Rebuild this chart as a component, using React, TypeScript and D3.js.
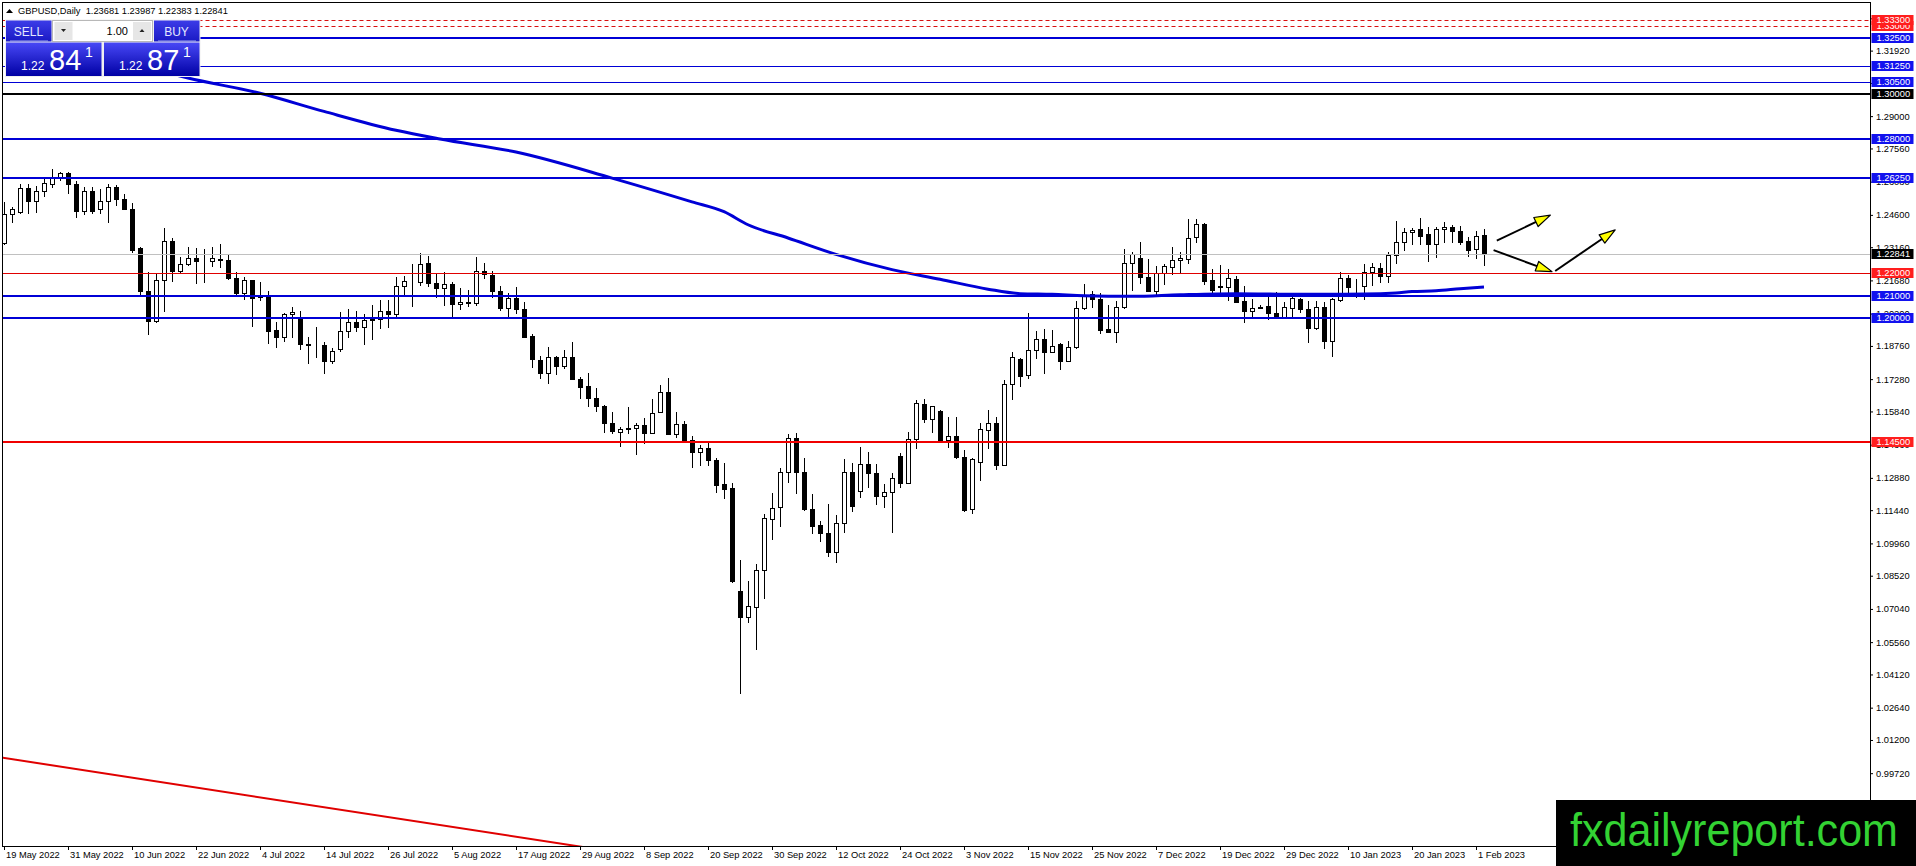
import { useEffect, useRef } from "react";
import * as d3 from "d3";

const WIDTH = 1916;
const HEIGHT = 866;

// GBPUSD daily bars, 19 May 2022 .. 2 Feb 2023 : [open, high, low, close]
const ohlc: [number, number, number, number][] = [
  [1.2333, 1.2519, 1.2330, 1.2464], [1.2464, 1.2497, 1.2430, 1.2485], [1.2471, 1.2598, 1.2468, 1.2578],
  [1.2578, 1.2598, 1.2467, 1.2523], [1.2523, 1.2589, 1.2474, 1.2568], [1.2568, 1.2620, 1.2546, 1.2601],
  [1.2598, 1.2663, 1.2583, 1.2623], [1.2630, 1.2653, 1.2615, 1.2645], [1.2645, 1.2650, 1.2556, 1.2598],
  [1.2596, 1.2612, 1.2452, 1.2479], [1.2479, 1.2586, 1.2462, 1.2568], [1.2568, 1.2586, 1.2467, 1.2479],
  [1.2485, 1.2574, 1.2470, 1.2523], [1.2523, 1.2598, 1.2427, 1.2583], [1.2583, 1.2593, 1.2504, 1.2529],
  [1.2529, 1.2553, 1.2485, 1.2485], [1.2485, 1.2511, 1.2296, 1.2303], [1.2311, 1.2315, 1.2103, 1.2122],
  [1.2122, 1.2204, 1.1929, 1.1987], [1.1987, 1.2199, 1.1981, 1.2170], [1.2170, 1.2400, 1.2033, 1.2344],
  [1.2344, 1.2355, 1.2167, 1.2211], [1.2211, 1.2274, 1.2199, 1.2240], [1.2240, 1.2318, 1.2237, 1.2269],
  [1.2269, 1.2311, 1.2155, 1.2253], [1.2255, 1.2308, 1.2162, 1.2254], [1.2253, 1.2315, 1.2232, 1.2266],
  [1.2263, 1.2329, 1.2229, 1.2257], [1.2259, 1.2284, 1.2173, 1.2177], [1.2177, 1.2207, 1.2103, 1.2110],
  [1.2110, 1.2182, 1.2084, 1.2170], [1.2170, 1.2172, 1.1966, 1.2088], [1.2092, 1.2162, 1.2081, 1.2099],
  [1.2099, 1.2121, 1.1890, 1.1944], [1.1947, 1.1981, 1.1870, 1.1914], [1.1914, 1.2021, 1.1899, 1.2017],
  [1.2017, 1.2051, 1.1914, 1.2026], [1.2003, 1.2032, 1.1861, 1.1883], [1.1884, 1.1914, 1.1801, 1.1879],
  [1.1880, 1.1959, 1.1825, 1.1882], [1.1880, 1.1895, 1.1754, 1.1810], [1.1810, 1.1865, 1.1798, 1.1855],
  [1.1861, 1.2026, 1.1855, 1.1944], [1.1944, 1.2039, 1.1917, 1.1984], [1.1984, 1.2032, 1.1944, 1.1962],
  [1.1962, 1.2017, 1.1883, 1.1992], [1.1993, 1.2058, 1.1907, 1.1995], [1.1994, 1.2081, 1.1954, 1.2033],
  [1.2033, 1.2081, 1.1962, 1.2017], [1.2017, 1.2185, 1.2011, 1.2145], [1.2145, 1.2188, 1.2103, 1.2167],
  [1.2168, 1.2240, 1.2055, 1.2170], [1.2162, 1.2289, 1.2147, 1.2240], [1.2244, 1.2277, 1.2143, 1.2158],
  [1.2158, 1.2199, 1.2093, 1.2136], [1.2136, 1.2207, 1.2058, 1.2150], [1.2150, 1.2162, 1.1999, 1.2061],
  [1.2061, 1.2133, 1.2039, 1.2070], [1.2070, 1.2125, 1.2055, 1.2068], [1.2068, 1.2271, 1.2058, 1.2210],
  [1.2210, 1.2247, 1.2177, 1.2197], [1.2192, 1.2210, 1.2096, 1.2122], [1.2122, 1.2143, 1.2036, 1.2044],
  [1.2044, 1.2110, 1.1999, 1.2089], [1.2088, 1.2140, 1.2021, 1.2039], [1.2039, 1.2073, 1.1914, 1.1917],
  [1.1920, 1.1929, 1.1784, 1.1819], [1.1813, 1.1831, 1.1735, 1.1754], [1.1754, 1.1870, 1.1709, 1.1825],
  [1.1825, 1.1831, 1.1749, 1.1787], [1.1787, 1.1858, 1.1776, 1.1825], [1.1825, 1.1893, 1.1727, 1.1727],
  [1.1727, 1.1736, 1.1642, 1.1694], [1.1697, 1.1754, 1.1608, 1.1642], [1.1642, 1.1687, 1.1587, 1.1610],
  [1.1610, 1.1612, 1.1491, 1.1531], [1.1534, 1.1580, 1.1486, 1.1498], [1.1494, 1.1516, 1.1432, 1.1504],
  [1.1509, 1.1605, 1.1486, 1.1504], [1.1509, 1.1531, 1.1394, 1.1524], [1.1524, 1.1556, 1.1445, 1.1489],
  [1.1489, 1.1639, 1.1486, 1.1576], [1.1583, 1.1702, 1.1583, 1.1669], [1.1669, 1.1735, 1.1482, 1.1482],
  [1.1482, 1.1580, 1.1472, 1.1527], [1.1527, 1.1542, 1.1449, 1.1452], [1.1457, 1.1475, 1.1338, 1.1405],
  [1.1405, 1.1434, 1.1345, 1.1420], [1.1420, 1.1452, 1.1345, 1.1368], [1.1368, 1.1378, 1.1226, 1.1256],
  [1.1261, 1.1356, 1.1197, 1.1238], [1.1241, 1.1267, 1.0825, 1.0828], [1.0784, 1.0922, 1.0328, 1.0669],
  [1.0669, 1.0828, 1.0644, 1.0717], [1.0714, 1.0903, 1.0525, 1.0878], [1.0878, 1.1125, 1.0751, 1.1108],
  [1.1105, 1.1222, 1.1014, 1.1152], [1.1157, 1.1331, 1.1075, 1.1313], [1.1313, 1.1482, 1.1271, 1.1464],
  [1.1464, 1.1487, 1.1219, 1.1313], [1.1313, 1.1375, 1.1145, 1.1148], [1.1148, 1.1216, 1.1041, 1.1075],
  [1.1078, 1.1096, 1.1008, 1.1041], [1.1041, 1.1172, 1.0940, 1.0956], [1.0956, 1.1123, 1.0912, 1.1085],
  [1.1085, 1.1371, 1.1045, 1.1316], [1.1316, 1.1356, 1.1142, 1.1164], [1.1231, 1.1427, 1.1201, 1.1348],
  [1.1348, 1.1402, 1.1246, 1.1308], [1.1308, 1.1350, 1.1172, 1.1207], [1.1207, 1.1261, 1.1160, 1.1224],
  [1.1224, 1.1308, 1.1048, 1.1286], [1.1385, 1.1397, 1.1249, 1.1264], [1.1264, 1.1491, 1.1264, 1.1460],
  [1.1460, 1.1635, 1.1420, 1.1620], [1.1616, 1.1638, 1.1538, 1.1549], [1.1549, 1.1610, 1.1494, 1.1608],
  [1.1586, 1.1590, 1.1449, 1.1452], [1.1457, 1.1558, 1.1427, 1.1475], [1.1475, 1.1558, 1.1375, 1.1380],
  [1.1380, 1.1412, 1.1142, 1.1145], [1.1148, 1.1375, 1.1133, 1.1371], [1.1357, 1.1531, 1.1279, 1.1504],
  [1.1501, 1.1591, 1.1420, 1.1531], [1.1531, 1.1561, 1.1326, 1.1345], [1.1345, 1.1724, 1.1345, 1.1705],
  [1.1705, 1.1847, 1.1638, 1.1825], [1.1818, 1.1820, 1.1699, 1.1743], [1.1746, 1.2021, 1.1731, 1.1858],
  [1.1858, 1.1943, 1.1824, 1.1905], [1.1905, 1.1950, 1.1754, 1.1850], [1.1850, 1.1947, 1.1848, 1.1877],
  [1.1885, 1.1888, 1.1772, 1.1810], [1.1810, 1.1898, 1.1808, 1.1873], [1.1873, 1.2076, 1.1865, 1.2044],
  [1.2044, 1.2150, 1.2041, 1.2103], [1.2106, 1.2121, 1.2051, 1.2084], [1.2085, 1.2110, 1.1932, 1.1947],
  [1.1951, 1.2058, 1.1937, 1.1939], [1.1939, 1.2076, 1.1892, 1.2051], [1.2051, 1.2308, 1.2044, 1.2247],
  [1.2247, 1.2293, 1.2125, 1.2284], [1.2269, 1.2338, 1.2155, 1.2182], [1.2182, 1.2262, 1.2122, 1.2122],
  [1.2122, 1.2232, 1.2103, 1.2199], [1.2199, 1.2239, 1.2150, 1.2232], [1.2228, 1.2315, 1.2197, 1.2257],
  [1.2257, 1.2296, 1.2204, 1.2269], [1.2262, 1.2442, 1.2244, 1.2355], [1.2360, 1.2442, 1.2338, 1.2418],
  [1.2418, 1.2422, 1.2150, 1.2167], [1.2170, 1.2219, 1.2118, 1.2125], [1.2143, 1.2237, 1.2118, 1.2138],
  [1.2137, 1.2219, 1.2081, 1.2177], [1.2173, 1.2188, 1.2070, 1.2073], [1.2076, 1.2143, 1.1984, 1.2033],
  [1.2033, 1.2084, 1.2011, 1.2044], [1.2044, 1.2058, 1.2043, 1.2051], [1.2054, 1.2096, 1.1996, 1.2021],
  [1.2024, 1.2118, 1.1999, 1.2006], [1.2006, 1.2070, 1.2005, 1.2048], [1.2043, 1.2096, 1.1999, 1.2088],
  [1.2084, 1.2091, 1.2029, 1.2039], [1.2039, 1.2076, 1.1892, 1.1954], [1.1954, 1.2076, 1.1951, 1.2048],
  [1.2048, 1.2070, 1.1865, 1.1899], [1.1899, 1.2091, 1.1833, 1.2084], [1.2079, 1.2204, 1.2076, 1.2177],
  [1.2177, 1.2192, 1.2106, 1.2140], [1.2143, 1.2173, 1.2096, 1.2145], [1.2143, 1.2240, 1.2084, 1.2204],
  [1.2204, 1.2244, 1.2148, 1.2226], [1.2222, 1.2244, 1.2162, 1.2188], [1.2188, 1.2296, 1.2162, 1.2281],
  [1.2281, 1.2433, 1.2247, 1.2338], [1.2338, 1.2400, 1.2304, 1.2382], [1.2382, 1.2400, 1.2329, 1.2393],
  [1.2397, 1.2445, 1.2329, 1.2367], [1.2373, 1.2407, 1.2256, 1.2329], [1.2329, 1.2407, 1.2274, 1.2397],
  [1.2396, 1.2427, 1.2338, 1.2405], [1.2405, 1.2415, 1.2341, 1.2388], [1.2388, 1.2412, 1.2329, 1.2341],
  [1.2344, 1.2363, 1.2278, 1.2304], [1.2307, 1.2388, 1.2266, 1.2366], [1.23681, 1.23987, 1.22383, 1.22841],
];

// one date label every 8 bars, starting at bar 0
const dateLabels = [
  "19 May 2022", "31 May 2022", "10 Jun 2022", "22 Jun 2022", "4 Jul 2022", "14 Jul 2022",
  "26 Jul 2022", "5 Aug 2022", "17 Aug 2022", "29 Aug 2022", "8 Sep 2022", "20 Sep 2022",
  "30 Sep 2022", "12 Oct 2022", "24 Oct 2022", "3 Nov 2022", "15 Nov 2022", "25 Nov 2022",
  "7 Dec 2022", "19 Dec 2022", "29 Dec 2022", "10 Jan 2023", "20 Jan 2023", "1 Feb 2023",
];
const dateStep = 8;

const priceTicks = [
  1.3336, 1.3192, 1.3048, 1.29, 1.2756, 1.2608, 1.246, 1.2316, 1.2168, 1.202, 1.1876, 1.1728,
  1.1584, 1.1436, 1.1288, 1.1144, 1.0996, 1.0852, 1.0704, 1.0556, 1.0412, 1.0264, 1.012, 0.9972,
];

// horizontal levels drawn on the chart
const blueLevels = [1.325, 1.3125, 1.305, 1.28, 1.2625, 1.21, 1.2];
const redLevels = [1.22, 1.145];
const dashedLevels = [1.33, 1.333];
const roundLevel = 1.3;
const bidPrice = 1.22841;
const thickLevels = [1.325, 1.28, 1.2625, 1.21, 1.2, 1.145, 1.3];

// moving average: [bar, price]
const maPoints: [number, number][] = [
  [21.5, 1.3083], [23, 1.3070], [32, 1.3002], [40, 1.2921], [49, 1.2837], [54.5, 1.2798],
  [64, 1.2740], [76, 1.2624], [86, 1.2518], [90, 1.2474], [93, 1.2416], [98, 1.2357],
  [104, 1.2284], [111, 1.2216], [117, 1.2173], [123, 1.2129], [127, 1.2109], [131, 1.2106],
  [135, 1.2100], [141, 1.2097], [147, 1.2104], [154, 1.2109], [162, 1.2106], [170, 1.2107],
  [174, 1.2112], [176, 1.2118], [179, 1.2122], [182, 1.2131], [185, 1.2139],
];

// red trend line anchors: [bar, price]
const trendAnchors: [number, number][] = [[0, 1.004], [72, 0.9645]];

// projection arrows: [[bar, price] from, [bar, price] to]
const arrows: [[number, number], [number, number]][] = [
  [[186.6, 1.2345], [193.3, 1.2459]],
  [[186.2, 1.2303], [193.5, 1.2207]],
  [[193.9, 1.2210], [201.4, 1.2393]],
];

const symbol = "GBPUSD,Daily";
const lotSize = "1.00";
const sellQuote = 1.22841;
const buyQuote = 1.22871;
const watermark = "fxdailyreport.com";

const FONT = "'Liberation Sans', Arial, sans-serif";
const BLUE = "#0000d6";
const BLUE_TAG = "#1212ee";
const RED = "#f00000";
const RED_TAG = "#ff1e1e";

export default function App() {
  const ref = useRef<SVGSVGElement | null>(null);

  useEffect(() => {
    if (!ref.current) return;
    const svg = d3.select(ref.current);
    svg.selectAll("*").remove();
    svg.attr("width", WIDTH).attr("height", HEIGHT);

    const plot = { left: 2.5, top: 2.5, right: 1870.5, bottom: 846.5 };
    const pxPerUnit = 2244;

    const x = d3.scaleLinear()
      .domain([0, (plot.right - 4) / 8])
      .range([4, plot.right]);
    const y = d3.scaleLinear()
      .domain([1.3 - (plot.bottom - 93.7) / pxPerUnit, 1.3 + (93.7 - plot.top) / pxPerUnit])
      .range([plot.bottom, plot.top]);

    svg.append("rect").attr("width", WIDTH).attr("height", HEIGHT).attr("fill", "#fff");

    const defs = svg.append("defs");
    defs.append("clipPath").attr("id", "plot-clip")
      .append("rect")
      .attr("x", plot.left + 0.5)
      .attr("y", plot.top + 0.5)
      .attr("width", plot.right - plot.left - 1)
      .attr("height", plot.bottom - plot.top - 1);

    const quoteGrad = defs.append("linearGradient").attr("id", "quote-grad")
      .attr("x1", 0).attr("y1", 0).attr("x2", 0).attr("y2", 1);
    quoteGrad.append("stop").attr("offset", "0%").attr("stop-color", "#4848f6");
    quoteGrad.append("stop").attr("offset", "100%").attr("stop-color", "#0000a4");
    const headGrad = defs.append("linearGradient").attr("id", "head-grad")
      .attr("x1", 0).attr("y1", 0).attr("x2", 0).attr("y2", 1);
    headGrad.append("stop").attr("offset", "0%").attr("stop-color", "#3c3ce8");
    headGrad.append("stop").attr("offset", "100%").attr("stop-color", "#1a1ac4");

    const g = svg.append("g").attr("clip-path", "url(#plot-clip)");

    // Candles
    const bars = g.append("g")
      .selectAll("g")
      .data(ohlc)
      .join("g");

    bars.append("line")
      .attr("x1", (_, i) => Math.round(x(i)) + 0.5)
      .attr("x2", (_, i) => Math.round(x(i)) + 0.5)
      .attr("y1", d => Math.round(y(d[1])))
      .attr("y2", d => Math.round(y(d[2])) + 1)
      .attr("stroke", "#000");

    bars.append("rect")
      .attr("x", (_, i) => Math.round(x(i)) - 1.5)
      .attr("y", d => Math.round(y(Math.max(d[0], d[3]))) + 0.5)
      .attr("width", 4)
      .attr("height", d => Math.max(0, Math.round(y(Math.min(d[0], d[3]))) - Math.round(y(Math.max(d[0], d[3])))))
      .attr("fill", d => (d[3] >= d[0] ? "#fff" : "#000"))
      .attr("stroke", "#000");

    // Moving average
    const maLine = d3.line<[number, number]>()
      .x(d => x(d[0]))
      .y(d => y(d[1]))
      .curve(d3.curveMonotoneX);
    g.append("path")
      .attr("d", maLine(maPoints))
      .attr("fill", "none")
      .attr("stroke", BLUE)
      .attr("stroke-width", 3);

    // Horizontal levels
    const levelY = (p: number, w: number) => (w % 2 === 1 ? Math.round(y(p)) + 0.5 : Math.round(y(p)));
    const drawLevel = (p: number, color: string, dash?: string) => {
      const w = thickLevels.includes(p) ? 2 : 1;
      g.append("line")
        .attr("x1", plot.left)
        .attr("x2", plot.right)
        .attr("y1", levelY(p, w))
        .attr("y2", levelY(p, w))
        .attr("stroke", color)
        .attr("stroke-width", w)
        .attr("stroke-dasharray", dash ?? null);
    };
    drawLevel(bidPrice, "#c0c0c0");
    blueLevels.forEach(p => drawLevel(p, BLUE));
    redLevels.forEach(p => drawLevel(p, p === 1.22 ? "#e00000" : RED));
    dashedLevels.forEach(p => drawLevel(p, "#d81010", "4,3"));
    drawLevel(roundLevel, "#000");

    // Trend line (extended across the plot)
    const slope = (trendAnchors[1][1] - trendAnchors[0][1]) / (trendAnchors[1][0] - trendAnchors[0][0]);
    const trendAt = (b: number) => trendAnchors[0][1] + slope * (b - trendAnchors[0][0]);
    g.append("line")
      .attr("x1", x(-5)).attr("y1", y(trendAt(-5)))
      .attr("x2", x(90)).attr("y2", y(trendAt(90)))
      .attr("stroke", "#e00000")
      .attr("stroke-width", 2);

    // Arrows
    arrows.forEach(([from, to]) => {
      const sx = x(from[0]), sy = y(from[1]);
      const ex = x(to[0]), ey = y(to[1]);
      const ang = Math.atan2(ey - sy, ex - sx);
      const len = 16, half = 5;
      const bx = ex - len * Math.cos(ang), by = ey - len * Math.sin(ang);
      const nx = -Math.sin(ang), ny = Math.cos(ang);
      g.append("line")
        .attr("x1", sx).attr("y1", sy)
        .attr("x2", bx + 3 * Math.cos(ang)).attr("y2", by + 3 * Math.sin(ang))
        .attr("stroke", "#000")
        .attr("stroke-width", 2);
      g.append("polygon")
        .attr("points", [[ex, ey], [bx + nx * half, by + ny * half], [bx - nx * half, by - ny * half]]
          .map(p => p.join(",")).join(" "))
        .attr("fill", "#ffff00")
        .attr("stroke", "#000")
        .attr("stroke-width", 1.2)
        .attr("stroke-linejoin", "round");
    });

    // Frame
    svg.append("rect")
      .attr("x", plot.left)
      .attr("y", plot.top)
      .attr("width", plot.right - plot.left)
      .attr("height", plot.bottom - plot.top)
      .attr("fill", "none")
      .attr("stroke", "#000");

    // Price axis
    const yAxis = svg.append("g")
      .attr("transform", `translate(${plot.right - 0.5},0)`)
      .call(d3.axisRight(y).tickValues(priceTicks).tickSize(3).tickPadding(3).tickFormat(d3.format(".5f")));
    yAxis.select(".domain").remove();
    yAxis.attr("font-family", FONT).attr("font-size", 9.3);
    yAxis.selectAll("text").attr("fill", "#000");
    yAxis.selectAll("line").attr("stroke", "#000");

    // Time axis
    const xAxis = svg.append("g")
      .attr("transform", `translate(0,${plot.bottom - 0.5})`)
      .call(d3.axisBottom(x)
        .tickValues(dateLabels.map((_, k) => k * dateStep))
        .tickSize(4)
        .tickPadding(1)
        .tickFormat((_, k) => dateLabels[k]));
    xAxis.select(".domain").remove();
    xAxis.attr("font-family", FONT).attr("font-size", 9.3);
    xAxis.selectAll("text").attr("fill", "#000").attr("text-anchor", "start").attr("x", 1.5);

    // Price tags on the axis
    const tag = (p: number, bg: string) => {
      const yy = Math.round(y(p));
      svg.append("rect")
        .attr("x", plot.right + 1)
        .attr("y", yy - 5)
        .attr("width", 42)
        .attr("height", 10)
        .attr("fill", bg);
      svg.append("text")
        .attr("x", plot.right + 6)
        .attr("y", yy)
        .attr("dy", "0.35em")
        .attr("font-family", FONT)
        .attr("font-size", 9.3)
        .attr("fill", "#fff")
        .text(p.toFixed(5));
    };
    blueLevels.forEach(p => tag(p, BLUE_TAG));
    redLevels.forEach(p => tag(p, RED_TAG));
    dashedLevels.forEach(p => tag(p, RED_TAG));
    tag(roundLevel, "#000");
    tag(bidPrice, "#000");

    // Header
    const [ho, hh, hl, hc] = ohlc[ohlc.length - 1];
    svg.append("path")
      .attr("d", "M6,13 L9.5,9 L13,13 Z")
      .attr("fill", "#000");
    svg.append("text")
      .attr("x", 18)
      .attr("y", 14)
      .attr("font-family", FONT)
      .attr("font-size", 9.3)
      .attr("fill", "#000")
      .style("white-space", "pre")
      .text(`${symbol}  ${ho.toFixed(5)} ${hh.toFixed(5)} ${hl.toFixed(5)} ${hc.toFixed(5)}`);

    // One-click trading panel
    const panel = svg.append("g").attr("font-family", FONT);
    panel.append("rect").attr("x", 5).attr("y", 19.5).attr("width", 195.5).attr("height", 57.5)
      .attr("fill", "#f0f0f0");
    [[6, "SELL"], [154, "BUY"]].forEach(([bx, label]) => {
      panel.append("rect").attr("x", bx as number).attr("y", 20.5).attr("width", 45.5).attr("height", 21)
        .attr("fill", "url(#head-grad)");
      panel.append("line")
        .attr("x1", (bx as number) + 4).attr("x2", (bx as number) + 42)
        .attr("y1", 41).attr("y2", 41)
        .attr("stroke", "#9ea6f0");
      panel.append("text")
        .attr("x", (bx as number) + 22.5).attr("y", 36)
        .attr("text-anchor", "middle")
        .attr("font-size", 12)
        .attr("fill", "#e4e8ff")
        .text(label as string);
    });
    panel.append("rect").attr("x", 52.5).attr("y", 20.5).attr("width", 100).attr("height", 21)
      .attr("fill", "#fff").attr("stroke", "#b8b8b8");
    panel.append("rect").attr("x", 54.5).attr("y", 22).attr("width", 18).attr("height", 18)
      .attr("fill", "#e6e6e6");
    panel.append("rect").attr("x", 133).attr("y", 22).attr("width", 18).attr("height", 18)
      .attr("fill", "#e6e6e6");
    panel.append("path").attr("d", "M61,29 L66,29 L63.5,32 Z").attr("fill", "#222");
    panel.append("path").attr("d", "M139.5,32 L144.5,32 L142,29 Z").attr("fill", "#222");
    panel.append("text")
      .attr("x", 128).attr("y", 35)
      .attr("text-anchor", "end")
      .attr("font-size", 11)
      .attr("fill", "#000")
      .text(lotSize);

    [[6, sellQuote], [104, buyQuote]].forEach(([bx, q]) => {
      const s = (q as number).toFixed(5);
      panel.append("rect").attr("x", bx).attr("y", 42.5).attr("width", 95.5).attr("height", 33.5)
        .attr("fill", "url(#quote-grad)");
      const t = panel.append("text").attr("y", 70).attr("fill", "#fff");
      t.append("tspan").attr("x", bx + 15).attr("font-size", 12).text(s.slice(0, 4));
      t.append("tspan").attr("x", bx + 43).attr("font-size", 29).text(s.slice(4, 6));
      t.append("tspan").attr("x", bx + 79).attr("dy", -13).attr("font-size", 14).text(s.slice(6));
    });

    // Watermark
    svg.append("rect").attr("x", 1556).attr("y", 800).attr("width", WIDTH - 1556).attr("height", HEIGHT - 800)
      .attr("fill", "#000");
    svg.append("text")
      .attr("x", 1570)
      .attr("y", 846)
      .attr("font-family", FONT)
      .attr("font-size", 47)
      .attr("textLength", 328)
      .attr("lengthAdjust", "spacingAndGlyphs")
      .attr("fill", "#33d233")
      .text(watermark);
  }, []);

  return (
    <div style={{ position: "absolute", left: 0, top: 0, width: WIDTH, height: HEIGHT }}>
      <svg ref={ref} style={{ display: "block" }} />
    </div>
  );
}
